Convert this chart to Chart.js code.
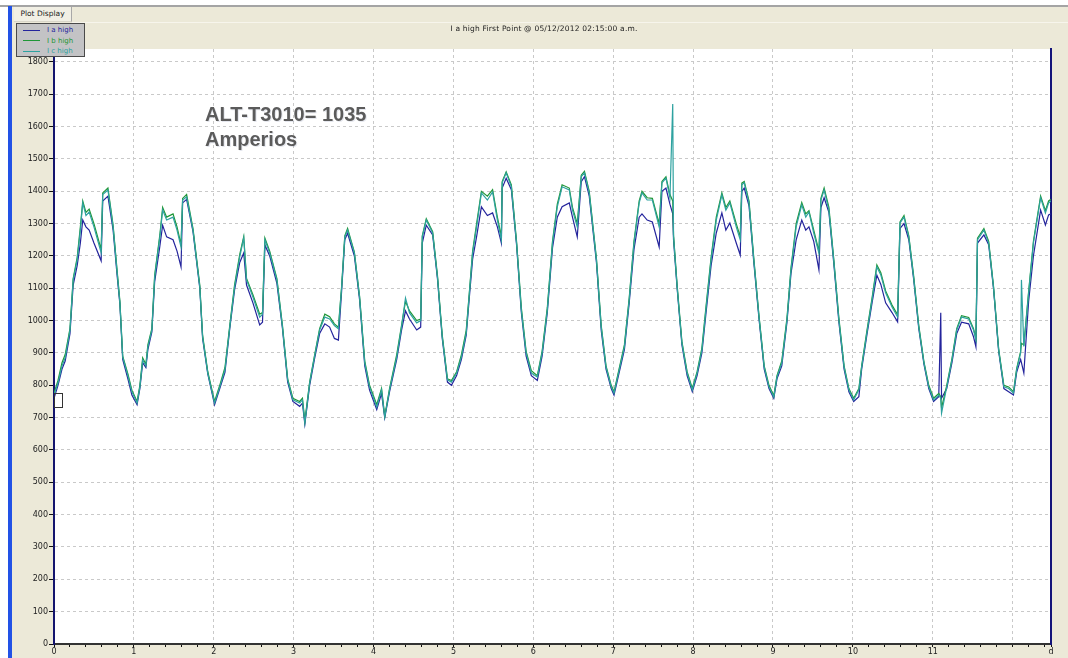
<!DOCTYPE html>
<html>
<head>
<meta charset="utf-8">
<title>Plot Display</title>
<script src="https://cdn.jsdelivr.net/npm/chart.js@4.4.1/dist/chart.umd.min.js"></script>
<style>
  body { margin: 0; background: #fff; width: 1068px; height: 658px; overflow: hidden; position: relative; font-family: "DejaVu Sans", sans-serif; }
  .panel { position: absolute; left: 12px; top: 7px; width: 1056px; height: 651px; background: #ECE9D8; }
  .topline { position: absolute; left: 0; top: 5px; width: 1068px; height: 2px; background: #A4A4A4; }
  .hiline { position: absolute; left: 72px; top: 22px; width: 996px; height: 1px; background: #F7F5EC; }
  .bluebar { position: absolute; left: 8px; top: 6px; width: 4px; height: 652px; background: #2252E6; }
  .tab { position: absolute; left: 14px; top: 7px; width: 57px; height: 14px; border-right: 1px solid #A8A8A8; border-bottom: 1px solid #D8D5C8;
         background: #F1EFE4; font-size: 7.5px; line-height: 14px; text-align: center; color: #222; }
  #chart { position: absolute; left: 0; top: 0; }
  .title { position: absolute; left: 0; top: 24px; width: 1088px; text-align: center; font-size: 7.5px; color: #222; letter-spacing: 0.2px; }
  .legend { position: absolute; left: 16px; top: 23px; width: 67px; height: 32px; background: #C3C3C5; border: 1px solid #4A4A4A; }
  .legend div { position: absolute; left: 6px; height: 10px; font-size: 7px; line-height: 10px; white-space: nowrap; }
  .legend span { display: inline-block; width: 17px; height: 1px; vertical-align: middle; margin-right: 7px; }
  .note { position: absolute; left: 205px; top: 102px; font-family: "Liberation Sans", Arial, sans-serif; font-weight: bold; font-size: 20px;
          line-height: 25px; color: #5B5B5B; text-shadow: 1px 1px 0 rgba(110,120,160,0.18); }
  .marker { position: absolute; left: 54px; top: 393px; width: 7px; height: 13px; border: 1px solid #333; }
</style>
</head>
<body>
<div class="panel"></div>
<div class="topline"></div>
<div class="hiline"></div>
<div class="bluebar"></div>
<div class="tab">Plot Display</div>
<canvas id="chart" width="1068" height="658"></canvas>
<div class="title" id="plotTitle"></div>
<div class="legend" id="plotLegend"></div>
<div class="note">ALT-T3010= 1035<br>Amperios</div>
<div class="marker"></div>
<script>
// sample times, in days from first point
const days = [
  0, 0.05, 0.10, 0.14, 0.20, 0.24, 0.29, 0.33, 0.36, 0.40, 0.44, 0.50, 0.59, 0.61, 0.675, 0.74, 0.79, 0.825, 0.86, 0.925, 0.975,
  1.04, 1.075, 1.11, 1.15, 1.175, 1.225, 1.26, 1.325, 1.36, 1.41, 1.49, 1.54, 1.59, 1.61, 1.66, 1.74, 1.825, 1.86, 1.925,
  2.01, 2.075, 2.14, 2.20, 2.26, 2.325, 2.375, 2.41, 2.49, 2.575, 2.61, 2.64, 2.70, 2.79, 2.86, 2.925, 2.99,
  3.075, 3.11, 3.14, 3.20, 3.26, 3.325, 3.39, 3.45, 3.51, 3.56, 3.60, 3.64, 3.675, 3.76, 3.825, 3.89, 3.95,
  4.04, 4.10, 4.14, 4.20, 4.29, 4.35, 4.40, 4.45, 4.54, 4.59, 4.61, 4.66, 4.74, 4.80, 4.86, 4.925, 4.975,
  5.04, 5.10, 5.16, 5.20, 5.24, 5.29, 5.35, 5.425, 5.49, 5.55, 5.60, 5.61, 5.66, 5.725, 5.79, 5.85, 5.91, 5.975,
  6.05, 6.11, 6.175, 6.24, 6.30, 6.36, 6.45, 6.49, 6.55, 6.60, 6.64, 6.70, 6.79, 6.85, 6.91, 6.975,
  7.01, 7.075, 7.14, 7.20, 7.26, 7.325, 7.36, 7.425, 7.49, 7.575, 7.61, 7.66, 7.71, 7.745, 7.755, 7.80, 7.86, 7.925, 7.99,
  8.05, 8.11, 8.16, 8.225, 8.29, 8.36, 8.41, 8.46, 8.54, 8.59, 8.61, 8.64, 8.70, 8.76, 8.825, 8.89, 8.95,
  9.01, 9.05, 9.11, 9.175, 9.225, 9.29, 9.36, 9.41, 9.45, 9.51, 9.575, 9.60, 9.64, 9.70, 9.76, 9.825, 9.89, 9.95,
  10.01, 10.075, 10.11, 10.175, 10.24, 10.30, 10.35, 10.41, 10.49, 10.56, 10.59, 10.64, 10.70, 10.76, 10.825, 10.89, 10.95,
  11.01, 11.075, 11.10, 11.11, 11.175, 11.24, 11.30, 11.36, 11.45, 11.51, 11.54, 11.56, 11.64, 11.70, 11.76, 11.825, 11.89, 11.95,
  12.01, 12.05, 12.10, 12.11, 12.14, 12.20, 12.26, 12.35, 12.41, 12.45, 12.48
];

const iaHigh = [
  760, 800, 850, 875, 960, 1110, 1170, 1240, 1311, 1290, 1280, 1240, 1185, 1370, 1385, 1280, 1140, 1050, 880, 820, 770,
  740, 790, 870, 855, 910, 965, 1120, 1230, 1295, 1259, 1250, 1215, 1166, 1364, 1375, 1275, 1100, 945, 835,
  740, 790, 840, 975, 1095, 1180, 1209, 1110, 1055, 987, 995, 1234, 1200, 1115, 975, 810, 750,
  735, 745, 680, 800, 880, 960, 990, 980, 945, 940, 1090, 1250, 1270, 1200, 1065, 860, 785,
  725, 775, 700, 780, 880, 970, 1030, 1005, 971, 980, 1240, 1295, 1265, 1130, 945, 810, 800,
  830, 880, 955, 1075, 1190, 1260, 1352, 1325, 1333, 1290, 1240, 1410, 1440, 1405, 1235, 1025, 890, 830,
  815, 890, 1025, 1225, 1320, 1352, 1364, 1320, 1259, 1430, 1445, 1385, 1180, 970, 850, 790,
  770, 840, 910, 1055, 1220, 1320, 1330, 1311, 1305, 1228, 1400, 1410, 1360, 1330, 1250, 1100, 925, 830, 780,
  830, 900, 1020, 1170, 1271, 1333, 1280, 1302, 1240, 1203, 1400, 1410, 1355, 1180, 1005, 850, 790,
  760, 820, 860, 995, 1145, 1250, 1311, 1280, 1290, 1245, 1157, 1350, 1380, 1335, 1180, 995, 850, 780,
  750, 765, 850, 955, 1055, 1141, 1112, 1055, 1025, 996, 1285, 1300, 1250, 1130, 975, 865, 790,
  750, 765, 1024, 760, 790, 870, 960, 995, 990, 950, 919, 1240, 1265, 1235, 1100, 905, 790, 780,
  770, 840, 880, 870, 838, 1060, 1200, 1342, 1296, 1327, 1330
];

const ibHigh = [
  775, 815, 870, 895, 975, 1130, 1195, 1290, 1370, 1335, 1345, 1300, 1220, 1395, 1410, 1295, 1155, 1060, 890, 835, 785,
  750, 800, 885, 865, 925, 975, 1140, 1265, 1350, 1320, 1330, 1290, 1235, 1378, 1390, 1285, 1110, 955, 842,
  750, 800, 855, 985, 1110, 1205, 1260, 1130, 1080, 1020, 1025, 1255, 1215, 1130, 985, 820, 760,
  750, 760, 690, 810, 890, 975, 1020, 1012, 990, 980, 1105, 1262, 1285, 1212, 1075, 875, 800,
  740, 790, 705, 790, 895, 985, 1060, 1030, 1000, 1005, 1262, 1315, 1275, 1140, 955, 820, 815,
  842, 895, 970, 1090, 1215, 1300, 1400, 1385, 1405, 1320, 1260, 1430, 1460, 1420, 1245, 1040, 905, 845,
  830, 905, 1040, 1245, 1360, 1420, 1410, 1350, 1300, 1450, 1462, 1400, 1192, 985, 860, 800,
  780, 852, 925, 1070, 1245, 1370, 1400, 1380, 1378, 1300, 1430, 1445, 1390, 1370, 1265, 1110, 935, 842, 790,
  842, 915, 1040, 1195, 1320, 1395, 1350, 1370, 1300, 1260, 1425, 1430, 1370, 1192, 1015, 860, 800,
  768, 830, 875, 1008, 1162, 1300, 1365, 1330, 1340, 1280, 1215, 1378, 1410, 1350, 1192, 1008, 860, 790,
  760, 790, 860, 968, 1070, 1172, 1148, 1092, 1048, 1018, 1305, 1325, 1262, 1140, 985, 872, 800,
  760, 775, 765, 730, 800, 882, 975, 1015, 1010, 975, 945, 1255, 1285, 1245, 1108, 912, 800, 795,
  780, 852, 905, 930, 925, 1090, 1245, 1385, 1340, 1370, 1375
];

const icHigh = [
  770, 807, 860, 885, 971, 1126, 1188, 1280, 1364, 1325, 1336, 1290, 1210, 1390, 1404, 1290, 1150, 1055, 888, 830, 780,
  745, 795, 878, 860, 919, 971, 1135, 1259, 1342, 1311, 1320, 1280, 1228, 1373, 1383, 1280, 1104, 950, 838,
  745, 795, 848, 980, 1104, 1197, 1256, 1126, 1073, 1011, 1020, 1250, 1209, 1126, 980, 817, 755,
  745, 755, 684, 807, 888, 971, 1011, 1005, 985, 975, 1100, 1259, 1280, 1209, 1073, 869, 795,
  733, 786, 702, 786, 888, 980, 1070, 1024, 993, 1000, 1259, 1311, 1271, 1135, 950, 817, 810,
  838, 888, 962, 1086, 1209, 1290, 1395, 1373, 1398, 1311, 1250, 1426, 1457, 1414, 1240, 1033, 900, 838,
  826, 900, 1033, 1240, 1352, 1414, 1404, 1342, 1290, 1445, 1457, 1395, 1188, 980, 857, 795,
  776, 848, 919, 1064, 1240, 1364, 1395, 1373, 1373, 1290, 1426, 1441, 1380, 1670, 1260, 1104, 931, 838, 786,
  838, 909, 1033, 1188, 1311, 1389, 1342, 1364, 1290, 1250, 1420, 1426, 1364, 1188, 1011, 857, 795,
  764, 826, 869, 1002, 1157, 1290, 1358, 1320, 1336, 1271, 1209, 1373, 1404, 1342, 1188, 1002, 857, 786,
  755, 786, 857, 962, 1064, 1166, 1141, 1086, 1042, 1011, 1302, 1320, 1259, 1135, 980, 869, 795,
  755, 770, 760, 714, 795, 878, 971, 1011, 1005, 971, 940, 1250, 1280, 1240, 1104, 909, 795, 790,
  776, 848, 900, 1126, 920, 1086, 1240, 1380, 1333, 1364, 1370
];

const seriesNames = ["I a high", "I b high", "I c high"];
const seriesColors = ["#24249C", "#1F9636", "#2EA2A0"];
const xTickLabels = ["0", "1", "2", "3", "4", "5", "6", "7", "8", "9", "10", "11", ""];
const xEndLabel = "d";
const X_MAX = 12.48;
const Y_MAX = 1840;
const titleText = "I a high First Point @ 05/12/2012 02:15:00 a.m.";

document.getElementById("plotTitle").textContent = titleText;

// legend box like the original plot window
const legendBox = document.getElementById("plotLegend");
seriesNames.forEach((name, i) => {
  const row = document.createElement("div");
  row.style.top = (1 + i * 10.5) + "px";
  row.style.color = seriesColors[i];
  row.innerHTML = `<span style="background:${seriesColors[i]}"></span>${name}`;
  legendBox.appendChild(row);
});

function toPoints(values) {
  return values.map((v, i) => ({ x: days[i], y: v }));
}

const isWhole = v => Math.abs(v - Math.round(v)) < 1e-6;

// white plot area
const plotBg = {
  id: "plotBg",
  beforeDraw(chart) {
    const { ctx, chartArea: a } = chart;
    ctx.save();
    ctx.fillStyle = "#ffffff";
    ctx.fillRect(a.left, a.top, a.right - a.left, a.bottom - a.top);
    ctx.restore();
  }
};

new Chart(document.getElementById("chart"), {
  type: "line",
  data: {
    datasets: [iaHigh, ibHigh, icHigh].map((vals, i) => ({
      label: seriesNames[i],
      data: toPoints(vals),
      borderColor: seriesColors[i],
      borderWidth: 1.2,
      pointRadius: 0,
      tension: 0,
      fill: false,
      order: 2 - i // I c high drawn on top
    }))
  },
  options: {
    responsive: false,
    animation: false,
    devicePixelRatio: 1,
    layout: { padding: { left: 0, top: 49, right: 17, bottom: 0 } },
    plugins: { legend: { display: false }, tooltip: { enabled: false } },
    scales: {
      x: {
        type: "linear",
        min: 0,
        max: X_MAX,
        afterBuildTicks: scale => {
          const t = [];
          for (let i = 0; i <= 62; i++) t.push({ value: Math.round(i * 2) / 10 });
          t.push({ value: X_MAX });
          scale.ticks = t;
        },
        afterFit: scale => { scale.height = 14; },
        ticks: {
          autoSkip: false,
          maxRotation: 0,
          padding: 0,
          color: "#222",
          font: { family: "DejaVu Sans", size: 8 },
          callback: v => {
            if (Math.abs(v - X_MAX) < 1e-6) return xEndLabel;
            return isWhole(v) ? xTickLabels[Math.round(v)] : "";
          }
        },
        grid: {
          color: c => (c.tick && isWhole(c.tick.value) && c.tick.value > 0 && c.tick.value < X_MAX) ? "#C9C9C9" : "rgba(0,0,0,0)",
          tickColor: "#111",
          tickLength: 3,
          tickBorderDash: []
        },
        border: { color: "#333", width: 2, dash: [3, 3] }
      },
      y: {
        min: 0,
        max: Y_MAX,
        afterBuildTicks: scale => {
          scale.ticks = scale.ticks.filter(t => t.value % 100 === 0);
        },
        afterFit: scale => { scale.width = 54; },
        ticks: {
          stepSize: 100,
          padding: 1,
          color: "#222",
          font: { family: "DejaVu Sans", size: 8 },
          callback: v => String(v)
        },
        grid: {
          color: c => (c.tick && c.tick.value > 0) ? "#C9C9C9" : "rgba(0,0,0,0)",
          tickColor: "#111",
          tickLength: 5,
          tickBorderDash: []
        },
        border: { color: "#14146E", width: 2, dash: [3, 3] }
      },
      y2: {
        position: "right",
        min: 0,
        max: Y_MAX,
        afterFit: scale => { scale.width = 0; },
        ticks: { display: false },
        grid: { display: false },
        border: { color: "#14147A", width: 2 }
      }
    }
  },
  plugins: [plotBg]
});
</script>
</body>
</html>
